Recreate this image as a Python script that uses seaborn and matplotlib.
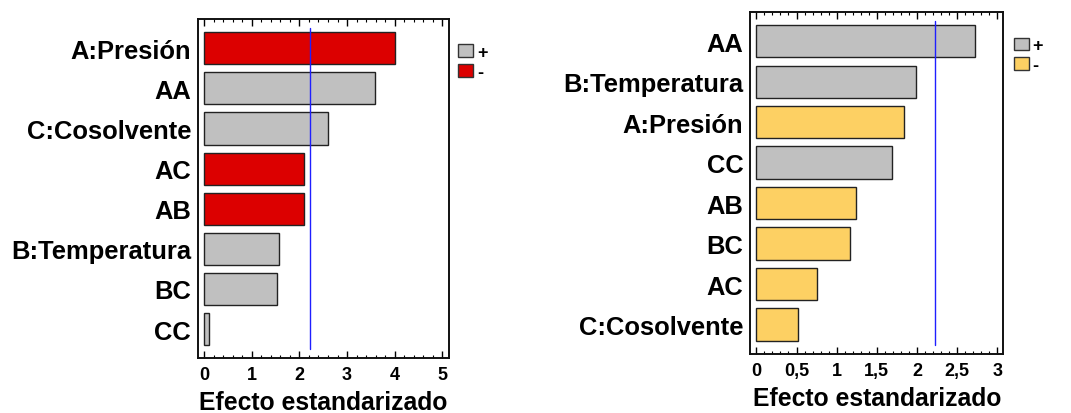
import matplotlib
matplotlib.use("Agg")
import matplotlib.pyplot as plt
from matplotlib.patches import Patch
from matplotlib.ticker import MultipleLocator
import seaborn as sns
import pandas as pd

# Standardized Pareto effects for the two responses
left_terms = ["A:Presión", "AA", "C:Cosolvente", "AC", "AB", "B:Temperatura", "BC", "CC"]
left_effects = [4.00, 3.59, 2.59, 2.09, 2.09, 1.58, 1.53, 0.11]
left_signs = ["-", "+", "+", "-", "-", "+", "+", "+"]

right_terms = ["AA", "B:Temperatura", "A:Presión", "CC", "AB", "BC", "AC", "C:Cosolvente"]
right_effects = [2.72, 1.99, 1.84, 1.69, 1.24, 1.17, 0.76, 0.52]
right_signs = ["+", "+", "-", "+", "-", "-", "-", "-"]

t_crit = 2.228
sign_order = ["+", "-"]
left_palette = {"+": "#c0c0c0", "-": "#dc0000"}
right_palette = {"+": "#c0c0c0", "-": "#fdd063"}
xlabel = "Efecto estandarizado"

sns.set_style("white")
plt.rcParams["font.family"] = ["Liberation Sans", "DejaVu Sans"]
plt.rcParams["font.weight"] = "bold"
for key in ("text.color", "axes.labelcolor", "xtick.color", "ytick.color"):
    plt.rcParams[key] = "black"

fig = plt.figure(figsize=(10.71, 4.14), dpi=100)
ax_l = fig.add_axes([0.1849, 0.1329, 0.2343, 0.8188])
ax_r = fig.add_axes([0.7006, 0.1432, 0.2362, 0.8261])


def pareto(ax, terms, effects, signs, palette, xlim, major, minor, ticklabels, leg_anchor):
    df = pd.DataFrame({"term": terms, "effect": effects, "sign": signs})
    sns.barplot(data=df, x="effect", y="term", hue="sign", hue_order=sign_order,
                palette=palette, saturation=1, dodge=False, width=0.8,
                edgecolor="#222222", linewidth=1.0, legend=False, ax=ax, order=terms)
    n = len(terms)
    ax.plot([t_crit, t_crit], [-0.5, n - 0.5], color="#1f1fff", linewidth=1.0)
    ax.set_xlim(*xlim)
    ax.set_ylim(n - 0.28, -0.73)
    ticks = [i * major for i in range(len(ticklabels))]
    ax.set_xticks(ticks)
    ax.xaxis.set_minor_locator(MultipleLocator(minor))
    ax.set_xticklabels(ticklabels, fontsize=13, fontweight="bold")
    ax.tick_params(axis="x", which="major", direction="in", length=5, width=1.0,
                   top=True, bottom=True, pad=6)
    ax.tick_params(axis="x", which="minor", direction="in", length=2.5, width=0.8,
                   top=True, bottom=True)
    ax.tick_params(axis="y", length=0, pad=5)
    for lab in ax.get_yticklabels():
        lab.set_fontsize(18.4)
        lab.set_fontweight("bold")
    ax.set_ylabel("")
    ax.set_xlabel(xlabel, fontsize=17.8, fontweight="bold", labelpad=5)
    for s in ax.spines.values():
        s.set_visible(True)
        s.set_color("#111111")
        s.set_linewidth(1.4)
    handles = [Patch(facecolor=palette[k], edgecolor="#333333", linewidth=1.0) for k in sign_order]
    ax.legend(handles, sign_order, loc="upper left", bbox_to_anchor=leg_anchor,
              frameon=False, handlelength=0.84, handleheight=0.7, handletextpad=0.2,
              labelspacing=0.15, borderaxespad=0, borderpad=0,
              prop={"size": 13, "weight": "bold"})


pareto(ax_l, left_terms, left_effects, left_signs, left_palette,
       (-0.13, 5.14), 1, 0.2, ["0", "1", "2", "3", "4", "5"], (1.036, 0.926))
pareto(ax_r, right_terms, right_effects, right_signs, right_palette,
       (-0.075, 3.075), 0.5, 0.1, ["0", "0,5", "1", "1,5", "2", "2,5", "3"], (1.042, 0.925))

fig.savefig("out.png", dpi=100)
